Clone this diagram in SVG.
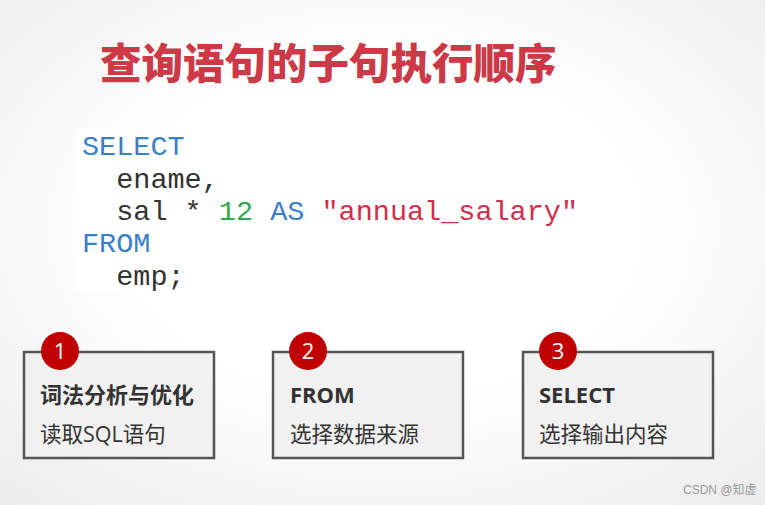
<svg xmlns="http://www.w3.org/2000/svg" width="765" height="505" viewBox="0 0 765 505">
<defs>
<radialGradient id="bg" cx="0.5" cy="0.45" r="0.75">
<stop offset="0.45" stop-color="#ffffff"/>
<stop offset="1" stop-color="#ececec"/>
</radialGradient>
<style>
.title{font-family:"Noto Sans CJK SC","Noto Sans",sans-serif;font-weight:900;font-size:41.5px;fill:#cc3a48}
.code{font-family:"Liberation Mono","Courier New",monospace;font-size:28.5px;fill:#333}
.kw{fill:#3a80c9}.num{fill:#2ea84f}.str{fill:#d02f4c}
.box{fill:#f1f1f1;stroke:#555;stroke-width:2.5}
.badge{fill:#c00000}
.badgeText{font-family:"Open Sans","Noto Sans",sans-serif;font-size:22px;fill:#fff;text-anchor:middle}
.head{font-family:"Open Sans","Noto Sans CJK SC",sans-serif;font-weight:700;font-size:22px;fill:#333}
.sub{font-family:"Open Sans","Noto Sans CJK SC",sans-serif;font-size:21.5px;fill:#333}
.wm{font-family:"Liberation Sans","Noto Sans CJK SC",sans-serif;font-size:12px;fill:#999}
</style>
</defs>
<rect width="765" height="505" fill="url(#bg)"/>
<text class="title" x="100" y="79">查询语句的子句执行顺序</text>
<rect x="76" y="130" width="505" height="163" fill="#ffffff"/>
<g id="code">
<text class="code" x="82" y="155"><tspan class="kw">SELECT</tspan></text>
<text class="code" x="82" y="188" xml:space="preserve">  ename,</text>
<text class="code" x="82" y="220" xml:space="preserve">  sal * <tspan class="num">12</tspan> <tspan class="kw">AS</tspan> <tspan class="str">"annual_salary"</tspan></text>
<text class="code" x="82" y="252"><tspan class="kw">FROM</tspan></text>
<text class="code" x="82" y="285" xml:space="preserve">  emp;</text>
</g>
<g id="node1">
<rect class="box" x="24" y="352" width="190" height="106"/>
<circle class="badge" cx="60" cy="351" r="19"/>
<text class="badgeText" x="60" y="359">1</text>
<text class="head" x="40" y="403">词法分析与优化</text>
<text class="sub" x="40" y="442">读取SQL语句</text>
</g>
<g id="node2">
<rect class="box" x="273" y="352" width="190" height="106"/>
<circle class="badge" cx="308" cy="351" r="19"/>
<text class="badgeText" x="308" y="359">2</text>
<text class="head" x="290" y="403">FROM</text>
<text class="sub" x="290" y="442">选择数据来源</text>
</g>
<g id="node3">
<rect class="box" x="523" y="352" width="190" height="106"/>
<circle class="badge" cx="558" cy="351" r="19"/>
<text class="badgeText" x="558" y="359">3</text>
<text class="head" x="539" y="403">SELECT</text>
<text class="sub" x="539" y="442">选择输出内容</text>
</g>
<g id="connectors"></g>
<text class="wm" x="683" y="494">CSDN @知虚</text>
</svg>
